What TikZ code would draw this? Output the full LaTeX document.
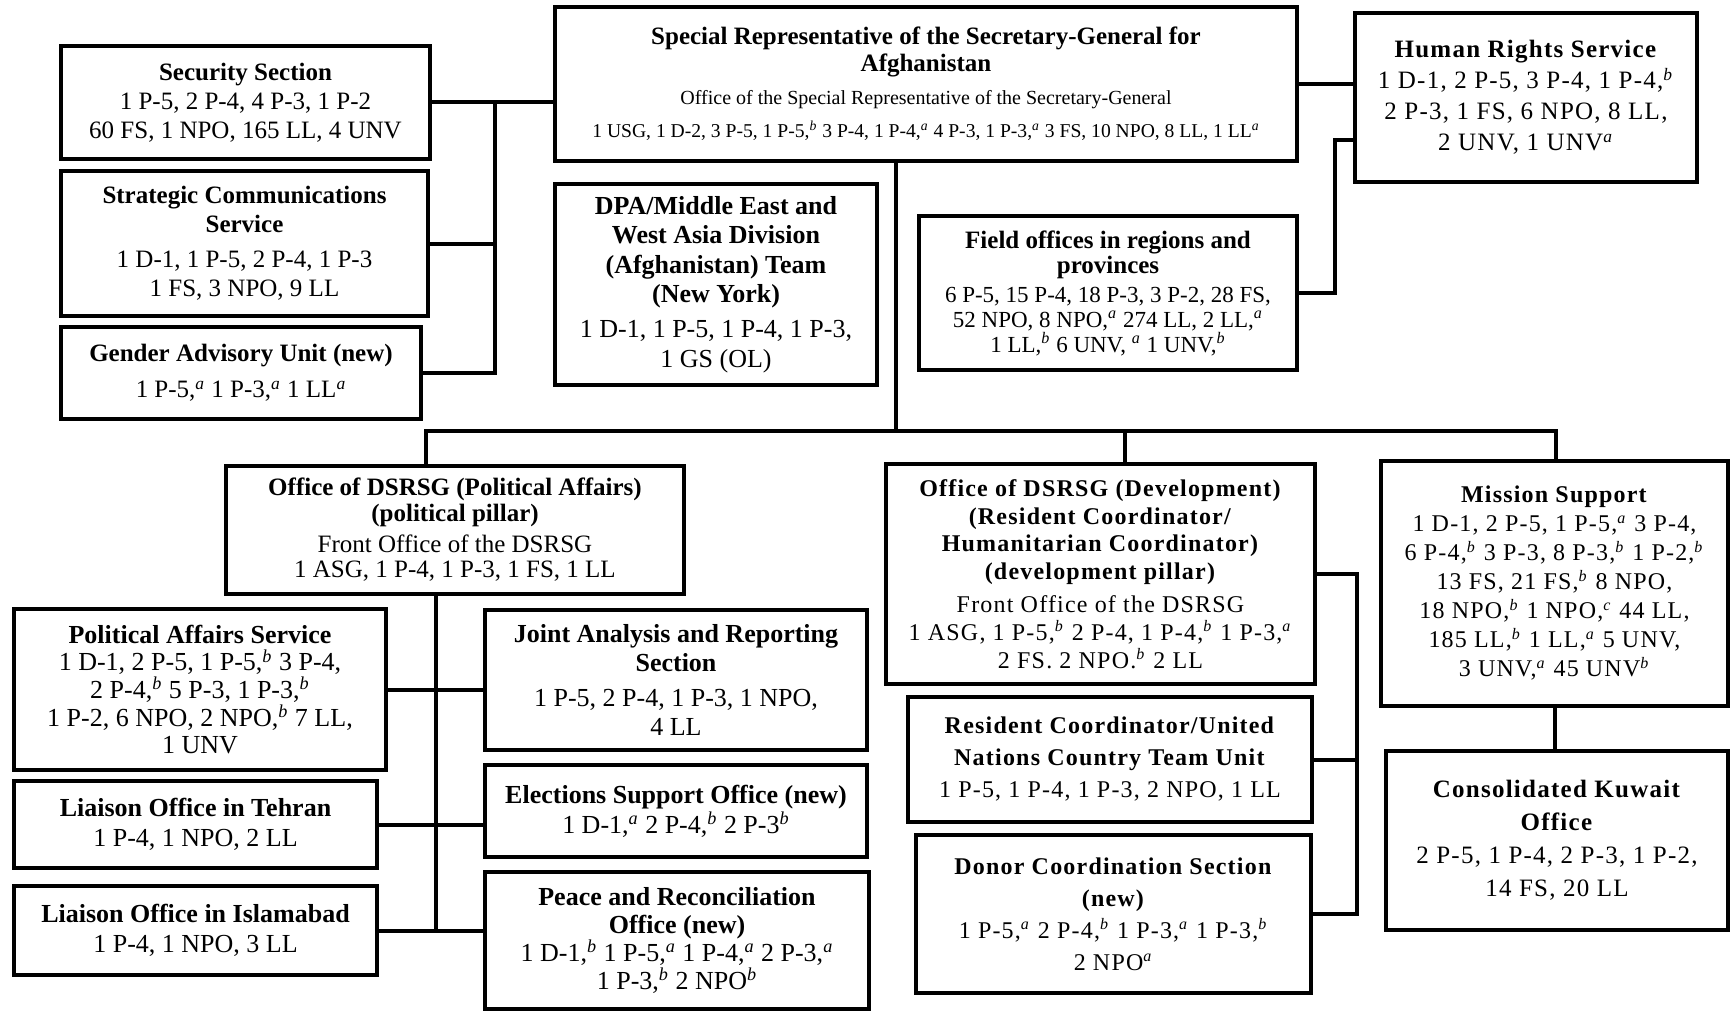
\documentclass[tikz,border=0pt]{standalone}
\usepackage{fontspec}
\setmainfont{Liberation Serif}
\newfontfamily\widefont{Liberation Serif}[LetterSpace=5]
\newcommand{\fnote}[1]{\textsuperscript{\textit{#1}}}
\newcommand{\boxfont}[2]{\fontsize{#1}{#2}\selectfont}
\tikzset{
  orgbox/.style 2 args={draw, line width=2pt, align=center, inner sep=1pt,
    minimum width=#1*0.5pt, minimum height=#2*0.5pt},
  link/.style={line width=2pt},
}

\begin{document}
\begin{tikzpicture}[x=0.5pt, y=-0.5pt]
\useasboundingbox (0,0) rectangle (1730,1011);

% top level
\node[orgbox={742}{154}, font=\boxfont{12.5}{13.5}] (srsg) at (926,84)
  {\textbf{Special Representative of the Secretary-General for}\\
   \textbf{Afghanistan}\\[3pt]
   {\boxfont{10}{12}Office of the Special Representative of the Secretary-General}\\[3pt]
   {\boxfont{9.8}{11}1 USG, 1 D-2, 3 P-5, 1 P-5,\fnote{b} 3 P-4, 1 P-4,\fnote{a} 4 P-3, 1 P-3,\fnote{a} 3 FS, 10 NPO, 8 LL, 1 LL\fnote{a}}};
\node[orgbox={369}{113}, font=\boxfont{12.5}{14.5}] (sec) at (245.5,102.5)
  {\textbf{Security Section}\\1 P-5, 2 P-4, 4 P-3, 1 P-2\\60 FS, 1 NPO, 165 LL, 4 UNV};
\node[orgbox={367}{145}, font=\boxfont{12.5}{14.5}] (strat) at (244.5,243.5)
  {\textbf{Strategic Communications}\\\textbf{Service}\\[3pt]1 D-1, 1 P-5, 2 P-4, 1 P-3\\1 FS, 3 NPO, 9 LL};
\node[orgbox={360}{92}, font=\boxfont{12.5}{15}] (gender) at (241,373)
  {\textbf{Gender Advisory Unit (new)}\\[3pt]1 P-5,\fnote{a} 1 P-3,\fnote{a} 1 LL\fnote{a}};
\node[orgbox={342}{169}, font=\widefont\boxfont{12.5}{15.5}] (hr) at (1526,97.5)
  {\textbf{Human Rights Service}\\1 D-1, 2 P-5, 3 P-4, 1 P-4,\fnote{b}\\2 P-3, 1 FS, 6 NPO, 8 LL,\\2 UNV, 1 UNV\fnote{a}};
\node[orgbox={322}{201}, font=\boxfont{13}{14.7}] (dpa) at (716,284.5)
  {\textbf{DPA/Middle East and}\\\textbf{West Asia Division}\\\textbf{(Afghanistan) Team}\\\textbf{(New York)}\\[3pt]1 D-1, 1 P-5, 1 P-4, 1 P-3,\\1 GS (OL)};
\node[orgbox={378}{154}, font=\boxfont{12.5}{12.5}] (field) at (1108,293)
  {\textbf{Field offices in regions and}\\\textbf{provinces}\\[2pt]
   {\boxfont{11.5}{12}6 P-5, 15 P-4, 18 P-3, 3 P-2, 28 FS,}\\
   {\boxfont{11.5}{12}52 NPO, 8 NPO,\fnote{a} 274 LL, 2 LL,\fnote{a}}\\
   {\boxfont{11.5}{12}1 LL,\fnote{b} 6 UNV, \fnote{a} 1 UNV,\fnote{b}}};

% political pillar
\node[orgbox={458}{128}, font=\boxfont{12.5}{12.7}] (polit) at (455,530)
  {\textbf{Office of DSRSG (Political Affairs)}\\\textbf{(political pillar)}\\[3pt]Front Office of the DSRSG\\1 ASG, 1 P-4, 1 P-3, 1 FS, 1 LL};
\node[orgbox={372}{161}, font=\boxfont{13}{13.8}] (pas) at (200,689.5)
  {\textbf{Political Affairs Service}\\1 D-1, 2 P-5, 1 P-5,\fnote{b} 3 P-4,\\2 P-4,\fnote{b} 5 P-3, 1 P-3,\fnote{b}\\1 P-2, 6 NPO, 2 NPO,\fnote{b} 7 LL,\\1 UNV};
\node[orgbox={382}{140}, font=\boxfont{13}{14.5}] (jars) at (676,680)
  {\textbf{Joint Analysis and Reporting}\\\textbf{Section}\\[3pt]1 P-5, 2 P-4, 1 P-3, 1 NPO,\\4 LL};
\node[orgbox={363}{87}, font=\boxfont{13}{15}] (tehran) at (195.5,824.5)
  {\textbf{Liaison Office in Tehran}\\1 P-4, 1 NPO, 2 LL};
\node[orgbox={382}{92}, font=\boxfont{13}{15}] (elect) at (676,811)
  {\textbf{Elections Support Office (new)}\\1 D-1,\fnote{a} 2 P-4,\fnote{b} 2 P-3\fnote{b}};
\node[orgbox={363}{89}, font=\boxfont{13}{15}] (islam) at (195.5,930.5)
  {\textbf{Liaison Office in Islamabad}\\1 P-4, 1 NPO, 3 LL};
\node[orgbox={384}{137}, font=\boxfont{13}{14}] (peace) at (677,940.5)
  {\textbf{Peace and Reconciliation}\\\textbf{Office (new)}\\1 D-1,\fnote{b} 1 P-5,\fnote{a} 1 P-4,\fnote{a} 2 P-3,\fnote{a}\\1 P-3,\fnote{b} 2 NPO\fnote{b}};

% development pillar
\node[orgbox={429}{220}, font=\widefont\boxfont{12}{13.8}] (devel) at (1100.5,574)
  {\textbf{Office of DSRSG (Development)}\\\textbf{(Resident Coordinator/}\\\textbf{Humanitarian Coordinator)}\\\textbf{(development pillar)}\\[3pt]Front Office of the DSRSG\\1 ASG, 1 P-5,\fnote{b} 2 P-4, 1 P-4,\fnote{b} 1 P-3,\fnote{a}\\2 FS. 2 NPO.\fnote{b} 2 LL};
\node[orgbox={404}{125}, font=\widefont\boxfont{12}{16}] (rcunct) at (1110,759.5)
  {\textbf{Resident Coordinator/United}\\\textbf{Nations Country Team Unit}\\1 P-5, 1 P-4, 1 P-3, 2 NPO, 1 LL};
\node[orgbox={395}{158}, font=\widefont\boxfont{12}{16}] (donor) at (1113.5,914)
  {\textbf{Donor Coordination Section}\\\textbf{(new)}\\1 P-5,\fnote{a} 2 P-4,\fnote{b} 1 P-3,\fnote{a} 1 P-3,\fnote{b}\\2 NPO\fnote{a}};

% mission support
\node[orgbox={347}{245}, font=\widefont\boxfont{12}{14.5}] (missup) at (1554.5,583.5)
  {\textbf{Mission Support}\\1 D-1, 2 P-5, 1 P-5,\fnote{a} 3 P-4,\\6 P-4,\fnote{b} 3 P-3, 8 P-3,\fnote{b} 1 P-2,\fnote{b}\\13 FS, 21 FS,\fnote{b} 8 NPO,\\18 NPO,\fnote{b} 1 NPO,\fnote{c} 44 LL,\\185 LL,\fnote{b} 1 LL,\fnote{a} 5 UNV,\\3 UNV,\fnote{a} 45 UNV\fnote{b}};
\node[orgbox={342}{179}, font=\widefont\boxfont{12.5}{16.5}] (kuwait) at (1557,840.5)
  {\textbf{Consolidated Kuwait}\\\textbf{Office}\\2 P-5, 1 P-4, 2 P-3, 1 P-2,\\14 FS, 20 LL};

% connectors
\coordinate (lbus) at (495,0);
\coordinate (hrjoin) at (1335,140);
\coordinate (srsgdrop) at (896,431);
\coordinate (busL) at (426,431);
\coordinate (busD) at (1125,431);
\coordinate (busR) at (1556,431);
\coordinate (pbus) at (436,0);
\coordinate (dbus) at (1357,0);

\draw[link] (sec.east) -- (sec.east -| srsg.west);
\draw[link] (sec.east -| lbus) |- (gender.east);
\draw[link] (strat.east) -- (strat.east -| lbus);
\draw[link] (srsg.east) -- (srsg.east -| hr.west);
\draw[link] (field.east) -| (hrjoin) -- (hrjoin -| hr.west);
\draw[link] (srsgdrop |- srsg.south) -- (srsgdrop);
\draw[link] (busL |- polit.north) |- (busR) -- (busR |- missup.north);
\draw[link] (busD) -- (busD |- devel.north);
\draw[link] (pbus |- polit.south) -- (pbus |- islam.east);
\draw[link] (pas.east) -- (pas.east -| jars.west);
\draw[link] (tehran.east) -- (tehran.east -| elect.west);
\draw[link] (islam.east) -- (islam.east -| peace.west);
\draw[link] (devel.east) -| (dbus |- donor.east) -- (donor.east);
\draw[link] (rcunct.east) -- (rcunct.east -| dbus);
\draw[link] (missup.south) -- (missup.south |- kuwait.north);
\end{tikzpicture}
\end{document}
